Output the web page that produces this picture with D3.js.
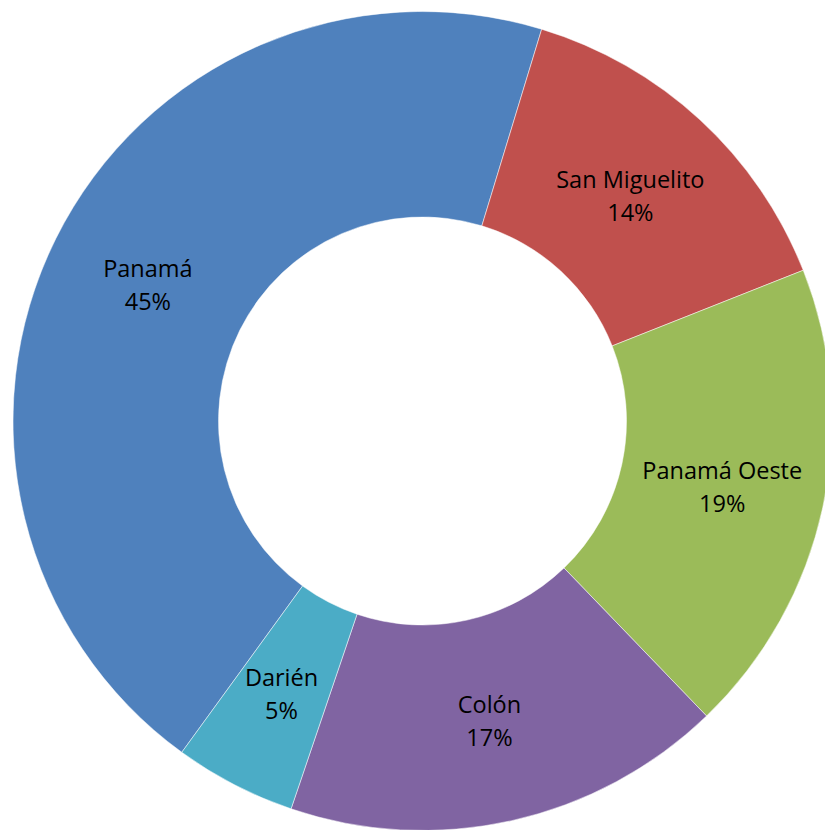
<!DOCTYPE html>
<html>
<head>
<meta charset="utf-8">
<script src="https://cdn.jsdelivr.net/npm/d3@7"></script>
<style>
  html, body { margin: 0; padding: 0; background: #fff; overflow: hidden; }
  svg text { font-family: "Open Sans", sans-serif; font-size: 23.5px; fill: #000; }
</style>
</head>
<body>
<div id="chart"></div>
<script>
// region names, clockwise from the Panamá slice
var names = ['Panamá', 'San Miguelito', 'Panamá Oeste', 'Colón', 'Darién'];
var shares = [44.7, 14.3, 18.8, 17.4, 4.8]; // percent
var colors = ['#4F81BD', '#C0504D', '#9BBB59', '#8064A2', '#4BACC6'];

var width = 825, height = 830;
var cx = 422.5, cy = 421;
var outer = 409.5, inner = 204;
var start = 216 * Math.PI / 180;

var data = names.map((n, i) => ({ name: n, value: shares[i], color: colors[i] }));

var svg = d3.select('#chart')
    .append('svg')
    .attr('width', width)
    .attr('height', height);

var g = svg.append('g').attr('transform', `translate(${cx},${cy})`);

var pie = d3.pie()
    .sort(null)
    .value(d => d.value)
    .startAngle(start)
    .endAngle(start + 2 * Math.PI);

var arc = d3.arc().innerRadius(inner).outerRadius(outer);
var labelArc = d3.arc().innerRadius((inner + outer) / 2).outerRadius((inner + outer) / 2);

var arcs = pie(data);

g.selectAll('path.slice')
    .data(arcs)
    .enter().append('path')
    .attr('class', 'slice')
    .attr('d', arc)
    .attr('fill', d => d.data.color)
    .attr('stroke', '#fff')
    .attr('stroke-width', 0.5);

var total = d3.sum(shares);
var labels = g.selectAll('g.label')
    .data(arcs)
    .enter().append('g')
    .attr('class', 'label')
    .attr('transform', d => `translate(${labelArc.centroid(d)})`);

labels.append('text')
    .attr('text-anchor', 'middle')
    .attr('y', -7)
    .text(d => d.data.name);

labels.append('text')
    .attr('text-anchor', 'middle')
    .attr('y', 26)
    .text(d => Math.round(d.data.value / total * 100) + '%');
</script>
</body>
</html>
